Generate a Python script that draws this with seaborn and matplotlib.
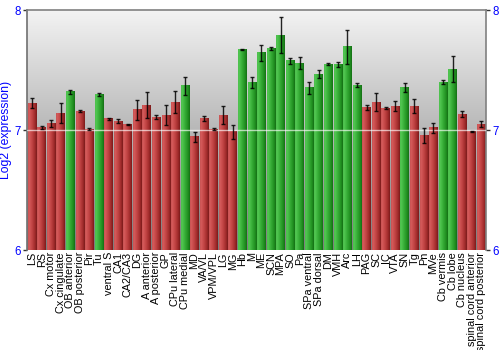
import numpy as np
import matplotlib
matplotlib.use("Agg")
import matplotlib.pyplot as plt
from matplotlib.colors import LinearSegmentedColormap
import seaborn as sns

regions = ["LS", "RS", "Cx motor", "Cx cingulate", "OB anterior", "OB posterior",
           "Pir", "Tu", "ventral S", "CA1", "CA2/CA3", "DG", "A anterior",
           "A posterior", "GP", "CPu lateral", "CPu medial", "MD", "VA/VL",
           "VPM/VPL", "LG", "MG", "Hb", "M", "ME", "SCN", "MPA", "SO", "Pa",
           "SPa ventral", "SPa dorsal", "DM", "VMH", "Arc", "LH", "PAG", "SC",
           "IC", "VTA", "SN", "Tg", "Pn", "MVe", "Cb vermis", "Cb lobe",
           "Cb nucleus", "spinal cord anterior", "spinal cord posterior"]

expression = [7.225, 7.020, 7.056, 7.139, 7.317, 7.158, 7.008, 7.297, 7.092,
              7.075, 7.042, 7.167, 7.208, 7.108, 7.125, 7.233, 7.367, 6.942,
              7.093, 7.006, 7.125, 6.986, 7.672, 7.394, 7.644, 7.681, 7.790,
              7.578, 7.556, 7.353, 7.464, 7.550, 7.547, 7.692, 7.372, 7.186,
              7.233, 7.183, 7.200, 7.356, 7.200, 6.953, 7.019, 7.400, 7.506,
              7.133, 6.986, 7.050]

sem = [0.044, 0.014, 0.028, 0.083, 0.019, 0.005, 0.012, 0.012, 0.008, 0.014,
       0.004, 0.083, 0.108, 0.014, 0.080, 0.088, 0.076, 0.043, 0.020, 0.010,
       0.071, 0.057, 0.005, 0.046, 0.065, 0.013, 0.149, 0.024, 0.051, 0.050,
       0.032, 0.005, 0.022, 0.138, 0.017, 0.020, 0.072, 0.011, 0.039, 0.039,
       0.061, 0.065, 0.042, 0.020, 0.110, 0.024, 0.005, 0.028]

enriched = ["OB anterior", "Tu", "CPu medial", "Hb", "M", "ME", "SCN", "MPA",
            "SO", "Pa", "SPa ventral", "SPa dorsal", "DM", "VMH", "Arc", "LH",
            "SN", "Cb vermis", "Cb lobe"]

group = ["high" if r in enriched else "low" for r in regions]
palette = {"high": "#33a833", "low": "#b83a3a"}

sns.set_style("white")
plt.rcParams["font.family"] = ["Liberation Sans", "DejaVu Sans"]

fig = plt.figure(figsize=(5, 3.5), dpi=100)
ax = fig.add_axes([0.0546, 0.2857, 0.9174, 0.6857])

sns.barplot(x=regions, y=expression, hue=group, palette=palette, dodge=False,
            width=0.9, legend=False, ax=ax, zorder=2)

ymin, ymax = 6, 8
n = len(regions)

# vertical grey gradient behind the bars (light at the top)
bg = np.linspace(0, 1, 256).reshape(-1, 1)
bg_cmap = LinearSegmentedColormap.from_list("bg", ["#f3f3f3", "#7c7c7c"])
ax.imshow(bg, cmap=bg_cmap, extent=[-0.5, n - 0.5, ymin, ymax],
          origin="upper", aspect="auto", zorder=0, interpolation="bilinear")
ax.set_facecolor("none")

# cylinder-like horizontal shading for each bar
red_cmap = LinearSegmentedColormap.from_list(
    "red", [(0, "#c45050"), (0.12, "#d65c5c"), (0.45, "#c24444"),
            (0.8, "#9e2a2a"), (1.0, "#7a1a1a")])
green_cmap = LinearSegmentedColormap.from_list(
    "green", [(0, "#4cbc4c"), (0.12, "#52c852"), (0.45, "#37ad37"),
              (0.8, "#208e20"), (1.0, "#146e14")])
grad = np.linspace(0, 1, 64).reshape(1, -1)
for p in list(ax.patches):
    h = p.get_height()
    if not np.isfinite(h) or h == 0:
        continue
    x0, w = p.get_x(), p.get_width()
    idx = int(round(x0 + w / 2))
    cmap = green_cmap if group[idx] == "high" else red_cmap
    ax.imshow(grad, cmap=cmap, extent=[x0, x0 + w, ymin, h], aspect="auto",
              zorder=2, interpolation="bilinear")
    p.set_visible(False)

ax.set_xlim(-0.5, n - 0.5)
ax.set_ylim(ymin, ymax)

# light reference line at 7
ax.axhline(7, color="white", lw=1.0, alpha=0.65, zorder=3)

ax.errorbar(np.arange(n), expression, yerr=sem, fmt="none",
            ecolor="black", elinewidth=1.0, capsize=1.6, capthick=1.0,
            alpha=0.85, zorder=4)

ax.set_yticks([6, 7, 8])
ax.tick_params(axis="y", which="both", left=True, right=True, labelleft=True,
               labelright=True, length=3, width=1, color="#333333",
               labelcolor="#0000ff", labelsize=8.3, pad=1.5)
ax.tick_params(axis="x", bottom=False, length=0, pad=1.5)
ax.set_xticks(np.arange(n))
ax.set_xticklabels(regions, rotation=90, fontsize=7.8, color="black")

ax.set_ylabel("Log2 (expression)", color="#0000ff", fontsize=8.8, labelpad=2)
ax.set_xlabel("")

for side in ["top", "right", "left"]:
    ax.spines[side].set_visible(True)
    ax.spines[side].set_color("#808080")
    ax.spines[side].set_linewidth(1.2)
ax.spines["left"].set_color("#707070")
ax.spines["bottom"].set_visible(False)

fig.savefig("out.png", dpi=100)
